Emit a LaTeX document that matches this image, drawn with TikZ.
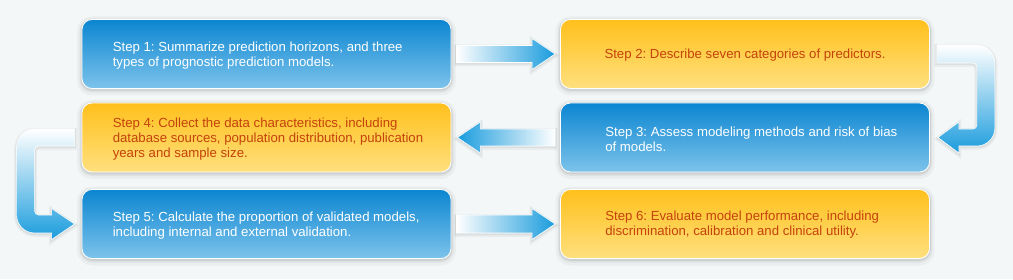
\documentclass[tikz,border=0pt]{standalone}
\usepackage{fontspec}
\setmainfont{Liberation Sans}
\usetikzlibrary{calc}
\frenchspacing
\definecolor{bg}{HTML}{F3F7F8}
\definecolor{btop}{HTML}{0B86D1}
\definecolor{bbot}{HTML}{7DC3EB}
\definecolor{ytop}{HTML}{FFC01C}
\definecolor{ybot}{HTML}{FFE07E}
\definecolor{otxt}{HTML}{C4420C}
\definecolor{ablue}{HTML}{1A9CDD}
\begin{document}
\begin{tikzpicture}[x=1pt,y=1pt,
  shadowed/.style={
    preaction={draw=black,draw opacity=0.035,line width=10pt,transform canvas={yshift=-2pt}},
    preaction={draw=black,draw opacity=0.05,line width=5pt,transform canvas={yshift=-1.5pt}},
    preaction={draw=black,draw opacity=0.07,line width=2.5pt,transform canvas={yshift=-1pt}}},
  lightshadow/.style={
    preaction={draw=black,draw opacity=0.04,line width=5pt,transform canvas={yshift=-1.5pt}},
    preaction={draw=black,draw opacity=0.06,line width=2.5pt,transform canvas={yshift=-1pt}}},
  stepbox/.style={shadowed, draw=white, line width=0.8pt, rounded corners=10pt,
    minimum width=369pt, minimum height=69pt, inner sep=0pt},
  bluebox/.style={stepbox, top color=btop, bottom color=bbot},
  yellowbox/.style={stepbox, top color=ytop, bottom color=ybot},
  txt/.style={font=\fontsize{13.2}{15}\selectfont, align=left, inner sep=0pt, anchor=west},
  arrowbody/.style={lightshadow, draw=white, line width=0.6pt, line join=miter}
]
\useasboundingbox (0,0) rectangle (1013,279);
\fill[bg] (0,0) rectangle (1013,279);

% boxes
\node[bluebox]   (b1) at (266.5,225) {};
\node[yellowbox] (b2) at (745,225) {};
\node[bluebox]   (b3) at (745,141.5) {};
\node[yellowbox] (b4) at (266.5,141.5) {};
\node[bluebox]   (b5) at (266.5,55) {};
\node[yellowbox] (b6) at (745,55) {};

% texts
\node[txt, text=white] (t1) at ($(b1.west)+(31,-2)$)
  {Step 1: Summarize prediction horizons, and three\\types of prognostic prediction models.};
\node[txt, text=otxt, anchor=center] (t2) at ($(b2.center)+(0,-1.5)$)
  {Step 2: Describe seven categories of predictors.};
\node[txt, text=white] (t3) at ($(b3.west)+(45,-2)$)
  {Step 3: Assess modeling methods and risk of bias\\of models.};
\node[txt, text=otxt] (t4) at ($(b4.west)+(31,-2)$)
  {Step 4: Collect the data characteristics, including\\database sources, population distribution, publication\\years and sample size.};
\node[txt, text=white] (t5) at ($(b5.west)+(31,-2)$)
  {Step 5: Calculate the proportion of validated models,\\including internal and external validation.};
\node[txt, text=otxt] (t6) at ($(b6.west)+(45,-1)$)
  {Step 6: Evaluate model performance, including\\discrimination, calibration and clinical utility.};

% arrow 1 -> 2
\coordinate (s12) at ($(b1.east)+(5,0)$);
\coordinate (e12) at ($(b2.west)+(-5,0)$);
\shadedraw[arrowbody, left color=white, right color=ablue]
  ($(s12)+(0,8.5)$) -- ($(e12)+(-23,8.5)$) -- ($(e12)+(-23,15.5)$) -- (e12)
  -- ($(e12)+(-23,-15.5)$) -- ($(e12)+(-23,-8.5)$) -- ($(s12)+(0,-8.5)$) -- cycle;

% arrow 2 -> 3
\coordinate (s23) at ($(b2.east)+(7,0)$);
\coordinate (e23) at ($(b3.east)+(8,0)$);
\shadedraw[arrowbody, top color=white, bottom color=ablue]
  ($(s23)+(0,9)$) -- ($(s23)+(40,9)$) arc[start angle=90,end angle=0,radius=18]
  -- ($(e23)+(57,9.5)$) arc[start angle=0,end angle=-90,radius=18]
  -- ($(e23)+(21,-8.5)$) -- ($(e23)+(21,-15.5)$) -- (e23) -- ($(e23)+(21,15.5)$)
  -- ($(e23)+(21,8.5)$) -- ($(e23)+(35,8.5)$) arc[start angle=-90,end angle=0,radius=4]
  -- ($(s23)+(40,-13)$) arc[start angle=0,end angle=90,radius=4]
  -- ($(s23)+(0,-9)$) -- cycle;

% arrow 3 -> 4
\coordinate (s34) at ($(b3.west)+(-5,0)$);
\coordinate (e34) at ($(b4.east)+(6,0)$);
\shadedraw[arrowbody, left color=ablue, right color=white]
  ($(s34)+(0,8.5)$) -- ($(e34)+(23,8.5)$) -- ($(e34)+(23,15.5)$) -- (e34)
  -- ($(e34)+(23,-15.5)$) -- ($(e34)+(23,-8.5)$) -- ($(s34)+(0,-8.5)$) -- cycle;

% arrow 4 -> 5
\coordinate (s45) at ($(b4.west)+(-7,0)$);
\coordinate (e45) at ($(b5.west)+(-7,0)$);
\shadedraw[arrowbody, top color=white, bottom color=ablue]
  ($(s45)+(0,8.5)$) -- ($(s45)+(-40,8.5)$) arc[start angle=90,end angle=180,radius=18]
  -- ($(e45)+(-58,9)$) arc[start angle=180,end angle=270,radius=18]
  -- ($(e45)+(-23,-9)$) -- ($(e45)+(-23,-15.5)$) -- (e45) -- ($(e45)+(-23,15.5)$)
  -- ($(e45)+(-23,9)$) -- ($(e45)+(-36,9)$) arc[start angle=270,end angle=180,radius=4]
  -- ($(s45)+(-40,-12.5)$) arc[start angle=180,end angle=90,radius=4]
  -- ($(s45)+(0,-8.5)$) -- cycle;

% arrow 5 -> 6
\coordinate (s56) at ($(b5.east)+(5,0)$);
\coordinate (e56) at ($(b6.west)+(-5,0)$);
\shadedraw[arrowbody, left color=white, right color=ablue]
  ($(s56)+(0,9)$) -- ($(e56)+(-23,9)$) -- ($(e56)+(-23,15.5)$) -- (e56)
  -- ($(e56)+(-23,-15.5)$) -- ($(e56)+(-23,-9)$) -- ($(s56)+(0,-9)$) -- cycle;
\end{tikzpicture}
\end{document}
